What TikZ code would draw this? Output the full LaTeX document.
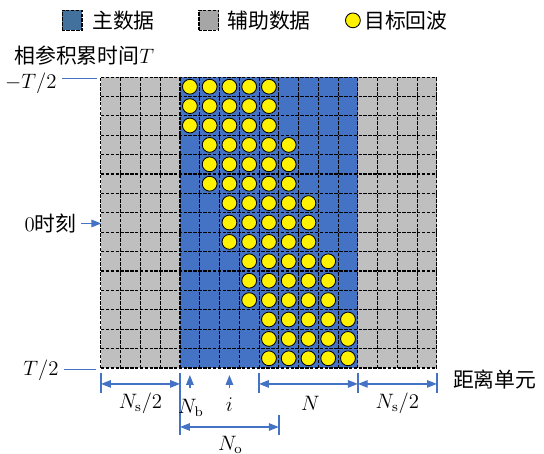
\documentclass[12pt,tikz,border=0pt]{standalone}
\usepackage{fontspec}
\newfontfamily\cjk{Noto Sans CJK SC}
\usetikzlibrary{arrows.meta}

\definecolor{zhublue}{RGB}{68,114,196}
\definecolor{fugray}{RGB}{191,191,191}
\definecolor{lgblue}{RGB}{65,113,156}
\definecolor{lggray}{RGB}{166,166,166}

\tikzset{
  cellgrid/.style={dash pattern=on 2pt off 0.8pt, line width=0.6pt},
  dimline/.style={draw=zhublue, line width=0.8pt},
  dimarrow/.style={dimline, {Triangle[length=2mm,width=1.5mm]}-{Triangle[length=2mm,width=1.5mm]}},
  uparrow/.style={dimline, -{Triangle[length=2mm,width=1.5mm]}},
  echo/.style={circle, draw=black, fill=yellow, line width=0.5pt, minimum size=0.30cm, inner sep=0pt},
  lbl/.style={inner sep=0pt},
}

\begin{document}
\begin{tikzpicture}[x=0.4cm, y=0.3927cm]
  \useasboundingbox (-5.11,-4.43) rectangle (22.42,18.97);

  % 图例
  \draw[cellgrid, fill=lgblue] (-1.97,17.40) rectangle (-0.96,18.45);
  \node[lbl, anchor=west] (lg1) at (-0.46,17.92) {\cjk 主数据};
  \draw[cellgrid, fill=lggray] (4.96,17.40) rectangle (5.97,18.45);
  \node[lbl, anchor=west] (lg2) at (6.38,17.92) {\cjk 辅助数据};
  \node[echo] (lg3c) at (12.75,17.92) {};
  \node[lbl, anchor=west] (lg3) at (13.31,17.92) {\cjk 目标回波};

  % 距离-时间网格
  \fill[fugray] (0,0) rectangle (17,15);
  \fill[zhublue] (4,0) rectangle (13,15);
  \draw[cellgrid, xstep=1, ystep=1] (0,0) grid (17,15);

  % 目标回波 (每 3 行右移一格)
  \foreach \r in {0,...,14}{
    \pgfmathtruncatemacro{\g}{\r/3}
    \foreach \k in {0,...,4}{
      \node[echo] (e\r-\k) at ({4.5+\g+\k},{14.5-\r}) {};
    }
  }

  % 左侧时间标注
  \node[lbl, anchor=west] (tt) at (-4.40,16.10) {{\cjk 相参积累时间}$T$};
  \coordinate (tl0) at (-1.97,14.92);
  \coordinate (tl1) at (-0.20,14.92);
  \draw[dimline] (tl0) -- (tl1);
  \node[lbl, anchor=east] (tneg) at (-2.23,14.70) {$-T/2$};
  \coordinate (zl0) at (-1.00,7.45);
  \coordinate (zl1) at (0.02,7.45);
  \draw[uparrow] (zl0) -- (zl1);
  \node[lbl, anchor=east] (tzero) at (-1.22,7.45) {0{\cjk 时刻}};
  \coordinate (bl0) at (-1.87,-0.08);
  \coordinate (bl1) at (-0.25,-0.08);
  \draw[dimline] (bl0) -- (bl1);
  \node[lbl, anchor=east] (tpos) at (-2.13,-0.1) {$T/2$};

  % 下方距离标注
  \draw[dimline] (0,-0.26) -- (0,-1.29);
  \draw[dimline] (4,-0.26) -- (4,-3.45);
  \draw[dimline] (8,-0.26) -- (8,-1.29);
  \draw[dimline] (9,-2.42) -- (9,-3.45);
  \draw[dimline] (13,-0.26) -- (13,-1.29);
  \draw[dimline] (17,-0.26) -- (17,-1.29);
  \coordinate (a0) at (0,-0.82);
  \coordinate (a4) at (4,-0.82);
  \coordinate (a8) at (8,-0.82);
  \coordinate (a13) at (13,-0.82);
  \coordinate (a17) at (17,-0.82);
  \coordinate (o4) at (4,-3.04);
  \coordinate (o9) at (9,-3.04);
  \draw[dimarrow] (a0) -- (a4);
  \draw[dimarrow] (a8) -- (a13);
  \draw[dimarrow] (a13) -- (a17);
  \draw[dimarrow] (o4) -- (o9);
  \coordinate (nb0) at (4.5,-1.05);
  \coordinate (nb1) at (4.5,-0.36);
  \coordinate (ni0) at (6.5,-1.05);
  \coordinate (ni1) at (6.5,-0.36);
  \draw[uparrow] (nb0) -- (nb1);
  \draw[uparrow] (ni0) -- (ni1);

  \node (ns1) at (2,-1.82) {$N_{\mathrm{s}}/2$};
  \node (nb) at (4.55,-2.05) {$N_{\mathrm{b}}$};
  \node (ni) at (6.5,-1.9) {$i$};
  \node (nn) at (10.6,-1.82) {$N$};
  \node (ns2) at (15,-1.82) {$N_{\mathrm{s}}/2$};
  \node (no) at (6.55,-3.97) {$N_{\mathrm{o}}$};
  \node[lbl, anchor=west] (dist) at (17.8,-0.57) {\cjk 距离单元};
\end{tikzpicture}
\end{document}
